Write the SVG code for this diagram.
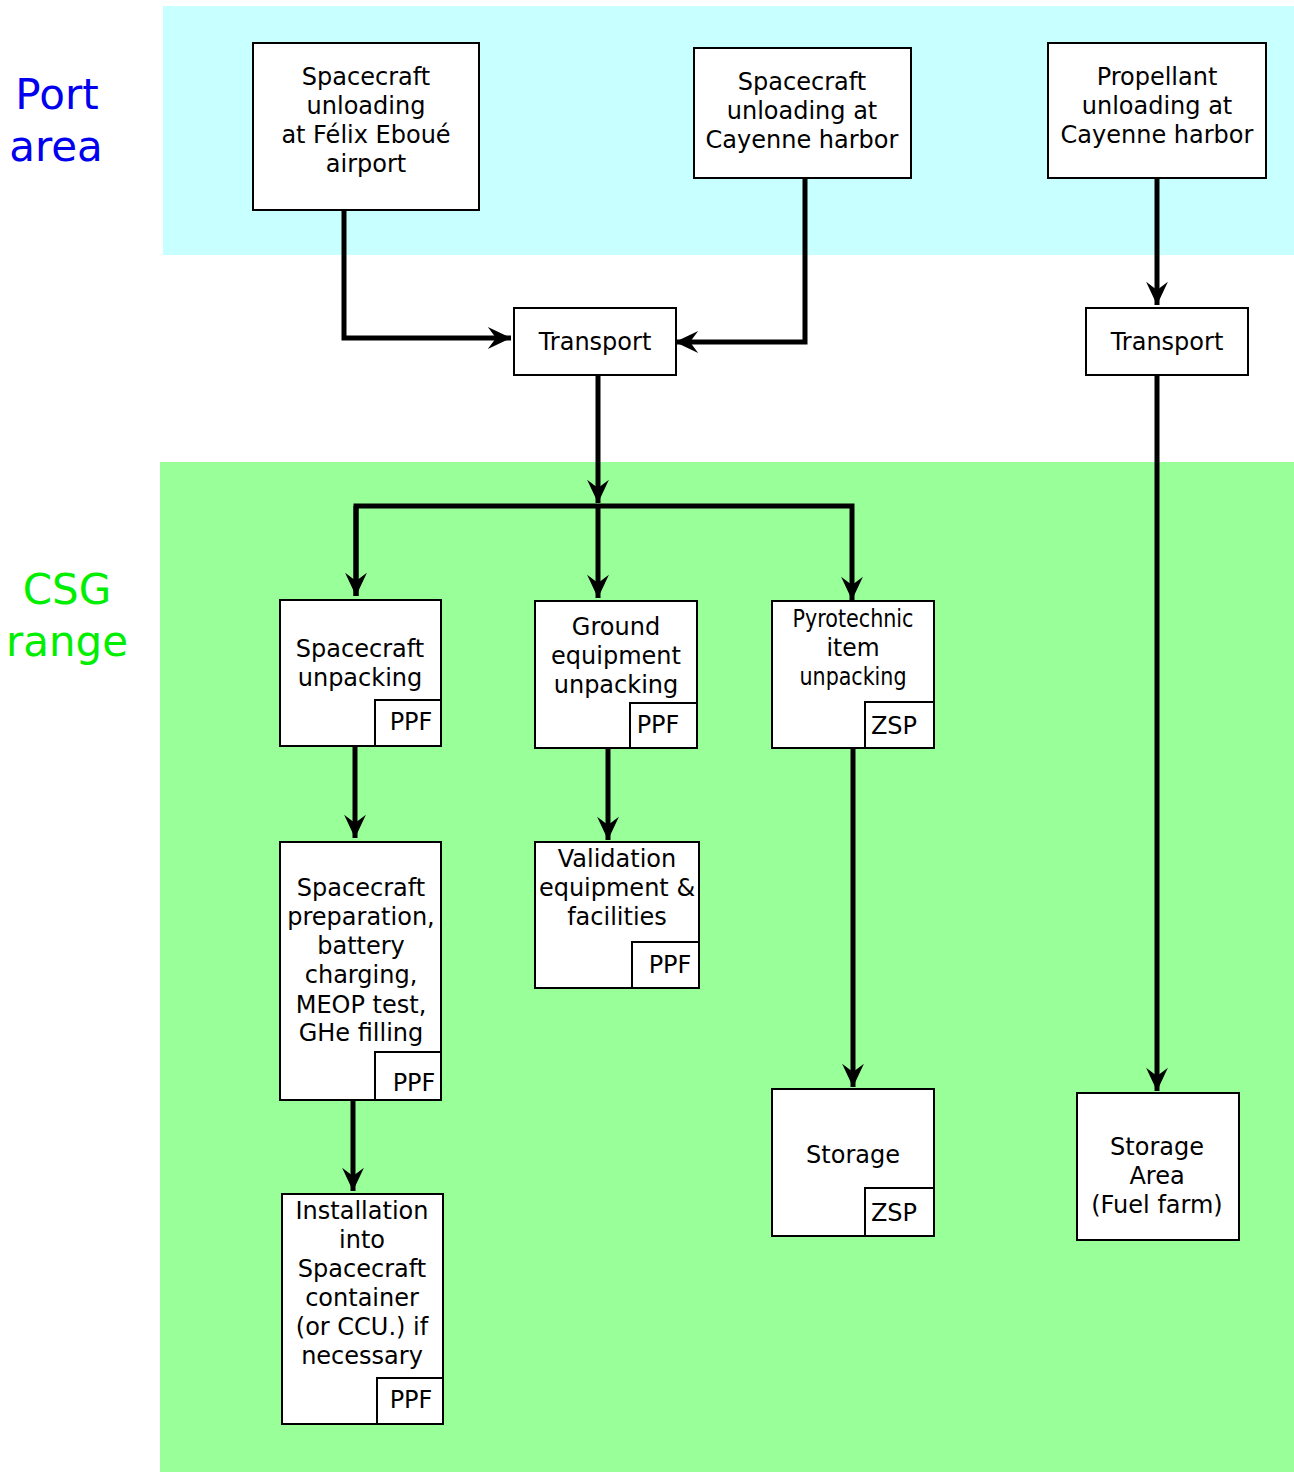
<svg xmlns="http://www.w3.org/2000/svg" width="1294" height="1472" viewBox="0 0 1294 1472">
<defs>
<style>
.bx{fill:#fff;stroke:#000;stroke-width:2}
.t{font-family:"DejaVu Sans","Verdana",sans-serif;font-size:24px;fill:#000;text-anchor:middle}
.c{fill:none;stroke:#000;stroke-width:5}
</style>
<marker id="ah" markerUnits="userSpaceOnUse" markerWidth="30" markerHeight="30" refX="0" refY="0" viewBox="-20 -10 22 20" orient="auto" overflow="visible">
<path d="M0,0 L-17,-8 L-11,0 L-17,8 Z" fill="#000"/>
</marker>
</defs>
<rect x="163" y="6" width="1131" height="249" fill="#c8ffff"/>
<rect x="160" y="462" width="1134" height="1010" fill="#99ff99"/>
<g id="label-port" font-family="DejaVu Sans, Verdana, sans-serif" font-size="42" fill="#0000ee" text-anchor="middle">
<text x="57" y="109">Port</text>
<text x="56" y="161">area</text>
</g>
<g id="label-csg" font-family="DejaVu Sans, Verdana, sans-serif" font-size="42" fill="#00ee00" text-anchor="middle">
<text x="67" y="604">CSG</text>
<text x="67" y="656">range</text>
</g>
<g id="connectors">
<path class="c" d="M344,210 V338 H511" marker-end="url(#ah)"/>
<path class="c" d="M805,178 V342 H675" marker-end="url(#ah)"/>
<path class="c" d="M1157,178 V305" marker-end="url(#ah)"/>
<path class="c" d="M598,375 V503" marker-end="url(#ah)"/>
<path class="c" d="M356,596 V506 H852 V600" marker-end="url(#ah)"/>
<path class="c" d="M598,506 V598" marker-end="url(#ah)"/>
<path class="c" d="M356,506 V596" marker-end="url(#ah)"/>
<path class="c" d="M355,746 V838" marker-end="url(#ah)"/>
<path class="c" d="M608,748 V840" marker-end="url(#ah)"/>
<path class="c" d="M853,748 V1087" marker-end="url(#ah)"/>
<path class="c" d="M353,1100 V1191" marker-end="url(#ah)"/>
<path class="c" d="M1157,375 V1091" marker-end="url(#ah)"/>
</g>
<g id="n-felix">
<rect class="bx" x="253" y="43" width="226" height="167"/>
<text class="t" x="366" y="85">Spacecraft</text>
<text class="t" x="366" y="114">unloading</text>
<text class="t" x="366" y="143">at Félix Eboué</text>
<text class="t" x="366" y="172">airport</text>
</g>
<g id="n-cayenne-sc">
<rect class="bx" x="694" y="48" width="217" height="130"/>
<text class="t" x="802" y="90">Spacecraft</text>
<text class="t" x="802" y="119">unloading at</text>
<text class="t" x="802" y="148">Cayenne harbor</text>
</g>
<g id="n-cayenne-prop">
<rect class="bx" x="1048" y="43" width="218" height="135"/>
<text class="t" x="1157" y="85">Propellant</text>
<text class="t" x="1157" y="114">unloading at</text>
<text class="t" x="1157" y="143">Cayenne harbor</text>
</g>
<g id="n-transport1">
<rect class="bx" x="514" y="308" width="162" height="67"/>
<text class="t" x="595" y="350">Transport</text>
</g>
<g id="n-transport2">
<rect class="bx" x="1086" y="308" width="162" height="67"/>
<text class="t" x="1167" y="350">Transport</text>
</g>
<g id="n-sc-unpack">
<rect class="bx" x="280" y="600" width="161" height="146"/>
<text class="t" x="360" y="657">Spacecraft</text>
<text class="t" x="360" y="686">unpacking</text>
<rect class="bx" x="375" y="700" width="66" height="46"/>
<text class="t" x="411" y="730">PPF</text>
</g>
<g id="n-ground">
<rect class="bx" x="535" y="601" width="162" height="147"/>
<text class="t" x="616" y="635">Ground</text>
<text class="t" x="616" y="664">equipment</text>
<text class="t" x="616" y="693">unpacking</text>
<rect class="bx" x="630" y="703" width="67" height="45"/>
<text class="t" x="658" y="733">PPF</text>
</g>
<g id="n-pyro">
<rect class="bx" x="772" y="601" width="162" height="147"/>
<text class="t" x="853" y="627" textLength="121" lengthAdjust="spacingAndGlyphs">Pyrotechnic</text>
<text class="t" x="853" y="656" textLength="53" lengthAdjust="spacingAndGlyphs">item</text>
<text class="t" x="853" y="685" textLength="107" lengthAdjust="spacingAndGlyphs">unpacking</text>
<rect class="bx" x="865" y="702" width="69" height="46"/>
<text class="t" x="894" y="734">ZSP</text>
</g>
<g id="n-prep">
<rect class="bx" x="280" y="842" width="161" height="258"/>
<text class="t" x="361" y="896">Spacecraft</text>
<text class="t" x="361" y="925">preparation,</text>
<text class="t" x="361" y="954">battery</text>
<text class="t" x="361" y="983">charging,</text>
<text class="t" x="361" y="1013">MEOP test,</text>
<text class="t" x="361" y="1041">GHe filling</text>
<rect class="bx" x="375" y="1052" width="66" height="48"/>
<text class="t" x="414" y="1091">PPF</text>
</g>
<g id="n-validation">
<rect class="bx" x="535" y="842" width="164" height="146"/>
<text class="t" x="617" y="867">Validation</text>
<text class="t" x="617" y="896">equipment &amp;</text>
<text class="t" x="617" y="925">facilities</text>
<rect class="bx" x="632" y="942" width="67" height="46"/>
<text class="t" x="670" y="973">PPF</text>
</g>
<g id="n-install">
<rect class="bx" x="282" y="1194" width="161" height="230"/>
<text class="t" x="362" y="1219">Installation</text>
<text class="t" x="362" y="1248">into</text>
<text class="t" x="362" y="1277">Spacecraft</text>
<text class="t" x="362" y="1306">container</text>
<text class="t" x="362" y="1335">(or CCU.) if</text>
<text class="t" x="362" y="1364">necessary</text>
<rect class="bx" x="377" y="1378" width="66" height="46"/>
<text class="t" x="411" y="1408">PPF</text>
</g>
<g id="n-storage">
<rect class="bx" x="772" y="1089" width="162" height="147"/>
<text class="t" x="853" y="1163">Storage</text>
<rect class="bx" x="865" y="1188" width="69" height="48"/>
<text class="t" x="894" y="1221">ZSP</text>
</g>
<g id="n-fuelfarm">
<rect class="bx" x="1077" y="1093" width="162" height="147"/>
<text class="t" x="1157" y="1155">Storage</text>
<text class="t" x="1157" y="1184">Area</text>
<text class="t" x="1157" y="1213">(Fuel farm)</text>
</g>
</svg>
